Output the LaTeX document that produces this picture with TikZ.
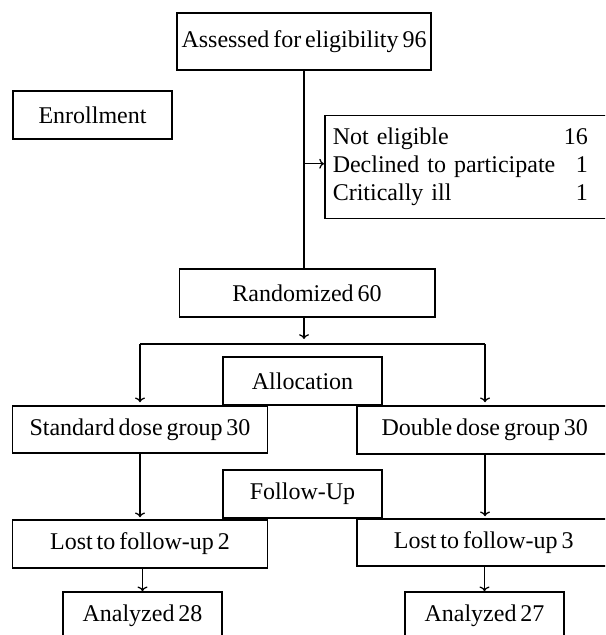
\documentclass[tikz,border=0pt]{standalone}
\usepackage{fontspec}
\setmainfont[WordSpace=0.65]{Liberation Serif}
\usetikzlibrary{arrows.meta}
\tikzset{
  box/.style={draw, line width=0.75pt, inner sep=0pt, align=center, minimum height=24pt},
  link/.style={line width=0.65pt},
  >={To[length=2.4pt, width=5pt]},
}
\begin{document}
\begin{tikzpicture}[x=0.5pt, y=-0.5pt, font=\fontsize{12}{14}\selectfont]
\useasboundingbox (0,0) rectangle (605,635);
\clip (0,0) rectangle (605,635);
% screening
\node[box, minimum width=127pt, minimum height=28.5pt] (assess) at (304,41.5) {Assessed for eligibility 96};
\node[box, minimum width=79.5pt] (enroll) at (92.5,115) {Enrollment};
\node[box, anchor=north west, minimum height=51.5pt, text width=140pt, align=left, inner xsep=4pt] (excl) at (324,115)
  {\makebox[127.5pt]{Not eligible\hfill 16}\\
   \makebox[127.5pt]{Declined to participate\hfill 1}\\
   \makebox[127.5pt]{Critically ill\hfill 1}};
\node[box, minimum width=127.75pt] (rand) at (307,293) {Randomized 60};
% allocation
\node[box, minimum width=79.5pt] (alloc) at (302.5,381) {Allocation};
\node[box, minimum width=127.5pt, minimum height=23.5pt] (std) at (140,429.5) {Standard dose group 30};
\node[box, anchor=west] (dbl) at (356,430) {\makebox[128pt]{Double dose group 30}\hspace{10pt}};
% follow-up
\node[box, minimum width=79.5pt] (follow) at (302.5,494) {Follow-Up};
\node[box, minimum width=127.5pt] (lost2) at (140,544) {Lost to follow-up 2};
\node[box, anchor=west, minimum height=23.5pt] (lost3) at (356,542.5) {\makebox[127pt]{Lost to follow-up 3}\hspace{10pt}};
% analysis
\node[box, minimum width=79.5pt] (an28) at (142.5,616) {Analyzed 28};
\node[box, minimum width=79.5pt] (an27) at (484.5,616) {Analyzed 27};
% connectors
\coordinate (exclin) at ([yshift=1.75pt]excl.west);
\coordinate (splitL) at (140,344);
\coordinate (splitR) at (485,344);
\draw[link] (assess.south) -- (assess.south |- rand.north);
\draw[link,->] (exclin -| assess.south) -- (exclin);
\draw[link,->,shorten >=2.5pt] (assess.south |- rand.south) -- (assess.south |- splitL);
\draw[link] (splitL) -- (splitR);
\draw[link,->,shorten >=1.5pt] (splitL) -- (splitL |- std.north);
\draw[link,->,shorten >=1.5pt] (splitR) -- (splitR |- dbl.north);
\draw[link,->,shorten >=1pt] (std.south) -- (lost2.north);
\draw[link,->,shorten >=1pt] (splitR |- dbl.south) -- (splitR |- lost3.north);
\draw[link,->] (an28.north |- lost2.south) -- (an28.north);
\draw[link,->] (an27.north |- lost3.south) -- (an27.north);
%\draw[red] (0,0) rectangle (605,635);
\end{tikzpicture}
\end{document}
